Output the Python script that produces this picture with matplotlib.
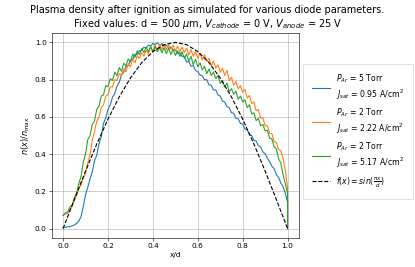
import numpy as np
import matplotlib
matplotlib.use("Agg")
import matplotlib.pyplot as plt

# positions x/d, 0.00 ... 0.99 in steps of 0.01, then the wall at 1.0 (twice)
x_grid = [round(0.01 * i, 2) for i in range(100)] + [1.0, 1.0]

# P_Ar = 5 Torr, J_sat = 0.95 A/cm^2
n_blue = [
    0.005, 0.007, 0.010, 0.011, 0.015, 0.019, 0.028, 0.040, 0.065, 0.118,
    0.182, 0.222, 0.268, 0.305, 0.365, 0.395, 0.455, 0.495, 0.565, 0.595,
    0.640, 0.665, 0.705, 0.725, 0.765, 0.785, 0.825, 0.840, 0.870, 0.876,
    0.905, 0.910, 0.935, 0.936, 0.955, 0.957, 0.975, 0.970, 0.985, 0.980,
    0.995, 0.988, 0.998, 0.985, 0.993, 0.980, 0.985, 0.968, 0.975, 0.958,
    0.960, 0.940, 0.945, 0.925, 0.925, 0.895, 0.898, 0.872, 0.875, 0.850,
    0.842, 0.825, 0.820, 0.800, 0.800, 0.772, 0.770, 0.745, 0.745, 0.718,
    0.712, 0.685, 0.680, 0.655, 0.650, 0.622, 0.620, 0.592, 0.590, 0.565,
    0.562, 0.535, 0.532, 0.505, 0.500, 0.475, 0.470, 0.445, 0.438, 0.412,
    0.402, 0.378, 0.360, 0.335, 0.322, 0.290, 0.275, 0.245, 0.225, 0.190,
    0.140, 0.0,
]

# P_Ar = 2 Torr, J_sat = 2.22 A/cm^2
n_orange = [
    0.070, 0.078, 0.082, 0.102, 0.118, 0.152, 0.176, 0.214, 0.236, 0.268,
    0.298, 0.352, 0.395, 0.475, 0.525, 0.578, 0.600, 0.652, 0.665, 0.712,
    0.720, 0.762, 0.760, 0.800, 0.795, 0.832, 0.822, 0.858, 0.842, 0.885,
    0.868, 0.910, 0.890, 0.930, 0.912, 0.945, 0.925, 0.958, 0.938, 0.975,
    0.950, 0.985, 0.958, 0.988, 0.962, 0.990, 0.960, 0.988, 0.962, 0.985,
    0.955, 0.980, 0.950, 0.975, 0.945, 0.970, 0.932, 0.962, 0.925, 0.950,
    0.915, 0.942, 0.905, 0.935, 0.898, 0.915, 0.875, 0.900, 0.862, 0.880,
    0.840, 0.862, 0.822, 0.850, 0.795, 0.812, 0.770, 0.790, 0.750, 0.768,
    0.732, 0.748, 0.702, 0.715, 0.672, 0.680, 0.632, 0.640, 0.592, 0.595,
    0.552, 0.552, 0.512, 0.510, 0.468, 0.462, 0.425, 0.418, 0.375, 0.312,
    0.220, 0.0,
]

# P_Ar = 2 Torr, J_sat = 5.17 A/cm^2
n_green = [
    0.070, 0.085, 0.090, 0.115, 0.125, 0.165, 0.190, 0.242, 0.280, 0.358,
    0.400, 0.478, 0.500, 0.560, 0.578, 0.640, 0.658, 0.712, 0.718, 0.768,
    0.762, 0.805, 0.795, 0.840, 0.822, 0.865, 0.845, 0.888, 0.875, 0.912,
    0.895, 0.938, 0.920, 0.955, 0.935, 0.968, 0.945, 0.975, 0.950, 0.978,
    0.950, 0.978, 0.950, 0.972, 0.945, 0.972, 0.940, 0.968, 0.935, 0.962,
    0.930, 0.955, 0.925, 0.950, 0.915, 0.938, 0.900, 0.925, 0.880, 0.910,
    0.870, 0.890, 0.852, 0.872, 0.832, 0.858, 0.822, 0.840, 0.805, 0.822,
    0.780, 0.795, 0.760, 0.782, 0.735, 0.752, 0.722, 0.738, 0.695, 0.712,
    0.680, 0.692, 0.650, 0.665, 0.615, 0.622, 0.580, 0.592, 0.552, 0.560,
    0.525, 0.528, 0.485, 0.482, 0.440, 0.428, 0.375, 0.352, 0.290, 0.240,
    0.190, 0.0,
]

# reference profile sin(pi x / d), read at steps of 0.05
x_ref = [0.0, 0.05, 0.1, 0.15, 0.2, 0.25, 0.3, 0.35, 0.4, 0.45, 0.5,
         0.55, 0.6, 0.65, 0.7, 0.75, 0.8, 0.85, 0.9, 0.95, 1.0]
n_ref = [0.0, 0.156, 0.309, 0.454, 0.588, 0.707, 0.809, 0.891, 0.951, 0.988, 1.0,
         0.988, 0.951, 0.891, 0.809, 0.707, 0.588, 0.454, 0.309, 0.156, 0.0]

labels = [
    "$P_{Ar}$ = 5 Torr\n$J_{sat}$ = 0.95 A/cm$^2$",
    "$P_{Ar}$ = 2 Torr\n$J_{sat}$ = 2.22 A/cm$^2$",
    "$P_{Ar}$ = 2 Torr\n$J_{sat}$ = 5.17 A/cm$^2$",
]
label_ref = r"$f(x) = sin(\frac{\pi x}{d})$"

dpi = 53

fig = plt.figure(figsize=(415 / dpi, 267 / dpi), dpi=dpi)
fig.subplots_adjust(left=0.125, right=0.72, bottom=0.109, top=0.876)
ax = fig.add_subplot(111)

for n, lab in zip([n_blue, n_orange, n_green], labels):
    ax.plot(x_grid, n, label=lab)
ax.plot(x_ref, n_ref, "k--", label=label_ref)

ax.grid()
ax.set_xlabel("x/d")
ax.set_ylabel(r"$n(x)/n_{\max}$", fontsize=11)
fig.suptitle("Plasma density after ignition as simulated for various diode parameters.\n"
             r"Fixed values: d = 500 $\mu$m, $V_{cathode}$ = 0 V, $V_{anode}$ = 25 V",
             fontsize=13.2, x=0.5, y=0.98)
ax.legend(loc="center left", bbox_to_anchor=(1.0, 0.52), fontsize=10.5,
          borderpad=1.2, labelspacing=0.65, handlelength=2.3)

fig.savefig("out.png", dpi=dpi)
